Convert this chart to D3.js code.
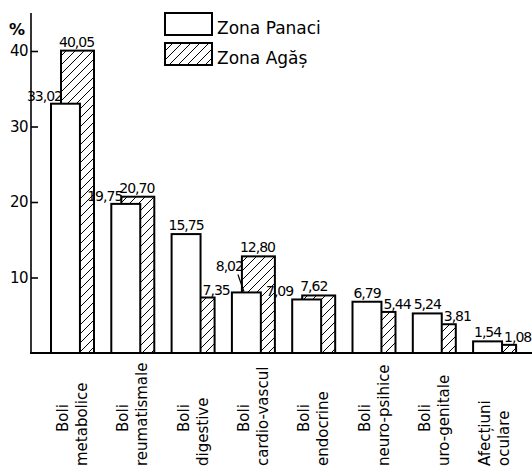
<!DOCTYPE html>
<html><head><meta charset="utf-8">
<script src="https://cdn.jsdelivr.net/npm/d3@7"></script>
<style>body{margin:0;background:#fff}svg{display:block}text{font-family:"DejaVu Sans",sans-serif;fill:#000}</style>
</head><body>
<script>
// ---- data ----
const categories = [["Boli","metabolice"],["Boli","reumatismale"],["Boli","digestive"],["Boli","cardio-vascul"],["Boli","endocrine"],["Boli","neuro-psihice"],["Boli","uro-genitale"],["Afecțiuni","oculare"]];
const panaci = [33.02, 19.75, 15.75, 8.02, 7.09, 6.79, 5.24, 1.54];
const agas   = [40.05, 20.70, 7.35, 12.80, 7.62, 5.44, 3.81, 1.08];
const seriesNames = ["Zona Panaci", "Zona Agăș"];
const yTicks = [10, 20, 30, 40];
const yUnit = "%";

// ---- layout ----
const W = 532, H = 467;
const svg = d3.select("body").append("svg").attr("width", W).attr("height", H);
const defs = svg.append("defs");
const pat = defs.append("pattern").attr("id", "hatch").attr("patternUnits", "userSpaceOnUse")
  .attr("width", 9).attr("height", 9);
pat.append("rect").attr("width", 9).attr("height", 9).attr("fill", "#fff");
pat.append("path").attr("d", "M-2,2 L2,-2 M0,9 L9,0 M7,11 L11,7")
  .attr("stroke", "#000").attr("stroke-width", 1);

const x = d3.scaleBand().domain(d3.range(categories.length)).range([51, 51 + 60.3 * categories.length]).padding(0);
const bw = x.bandwidth();
const y = d3.scaleLinear().domain([0, 40]).range([353, 51]);

const wStart = 0, wEnd = 0.48 * bw;        // white bar (Panaci)
const hStart = 0.166 * bw, hEnd = 0.713 * bw; // hatched bar (Agăș)

// hatched bars first (behind)
svg.append("g").selectAll("rect").data(agas).join("rect")
  .attr("x", (d, i) => x(i) + hStart).attr("y", d => y(d))
  .attr("width", hEnd - hStart).attr("height", d => y(0) - y(d))
  .attr("fill", "url(#hatch)").attr("stroke", "#000").attr("stroke-width", 2);
// white bars in front
svg.append("g").selectAll("rect").data(panaci).join("rect")
  .attr("x", (d, i) => x(i) + wStart).attr("y", d => y(d))
  .attr("width", wEnd - wStart).attr("height", d => y(0) - y(d))
  .attr("fill", "#fff").attr("stroke", "#000").attr("stroke-width", 2);

// axis
svg.append("line").attr("x1", 31).attr("x2", 31).attr("y1", 13).attr("y2", y(0))
  .attr("stroke", "#000").attr("stroke-width", 1.6);
svg.append("line").attr("x1", 30).attr("x2", W).attr("y1", y(0)).attr("y2", y(0))
  .attr("stroke", "#000").attr("stroke-width", 2);
const ax = svg.append("g").attr("transform", "translate(31,0)")
  .call(d3.axisLeft(y).tickValues(yTicks).tickSize(-7).tickPadding(3).tickFormat(d3.format("d")));
ax.select(".domain").remove();
ax.selectAll(".tick line").attr("stroke", "#000").attr("stroke-width", 1.6);
ax.selectAll(".tick text").attr("font-size", 15).attr("letter-spacing", "-0.5px")
  .attr("font-family", "DejaVu Sans").attr("fill", "#000");
svg.append("text").attr("x", 9).attr("y", 35).attr("font-size", 16).attr("font-weight", "bold").text(yUnit);

// value labels
const fmt = v => d3.format(".2f")(v).replace(".", ",");
const lab = svg.append("g").attr("font-size", 14).attr("letter-spacing", "-1px");
const placed = [];
function overlaps(a, b) {
  return a.x < b.x + b.width && b.x < a.x + a.width && a.y < b.y + b.height && b.y < a.y + a.height;
}
categories.forEach((c, i) => {
  const x0 = x(i), p = panaci[i], a = agas[i];
  // Panaci label
  let px, py, pa;
  if (p >= a) { px = x0 + (wStart + wEnd) / 2; py = y(p) - 4; pa = "middle"; }
  else { pa = "end"; py = y(p) - 3; px = (y(p) - y(a) < 6) ? x0 + 1 : x0 + hStart + 1; }
  const tp = lab.append("text").attr("x", px).attr("y", py).attr("text-anchor", pa).text(fmt(p));
  let bb = tp.node().getBBox();
  if (pa === "end" && placed.some(o => overlaps(bb, o))) {
    const dy = 18;
    tp.attr("y", py - dy);
    lab.append("line").attr("x1", px - 5).attr("y1", py - dy + 3).attr("x2", px + 1).attr("y2", y(p) - 1)
      .attr("stroke", "#000").attr("stroke-width", 1.2);
    bb = tp.node().getBBox();
  }
  placed.push(bb);
  // Agăș label
  let ta;
  if (a >= p) ta = lab.append("text").attr("x", x0 + hStart - 2).attr("y", y(a) - 4).attr("text-anchor", "start");
  else ta = lab.append("text").attr("x", x0 + wEnd + 2).attr("y", y(a) - 3).attr("text-anchor", "start");
  ta.text(fmt(a));
  placed.push(ta.node().getBBox());
});

// category labels (rotated)
const cl = svg.append("g").attr("font-size", 15);
categories.forEach((c, i) => {
  const x0 = x(i);
  const y1 = c[0].length <= 4 ? 432 : 466;
  cl.append("text").attr("transform", `translate(${x0 + 17},${y1}) rotate(-90)`).attr("text-anchor", "start").text(c[0]);
  cl.append("text").attr("transform", `translate(${x0 + 36},466) rotate(-90)`).attr("text-anchor", "start").text(c[1]);
});

// legend
const leg = svg.append("g");
seriesNames.forEach((s, i) => {
  leg.append("rect").attr("x", 165).attr("y", 13 + i * 30).attr("width", 47).attr("height", 22)
    .attr("fill", i === 0 ? "#fff" : "url(#hatch)").attr("stroke", "#000").attr("stroke-width", 2);
  leg.append("text").attr("x", 217).attr("y", 34 + i * 30).attr("font-size", 17).text(s);
});
</script>
</body></html>
